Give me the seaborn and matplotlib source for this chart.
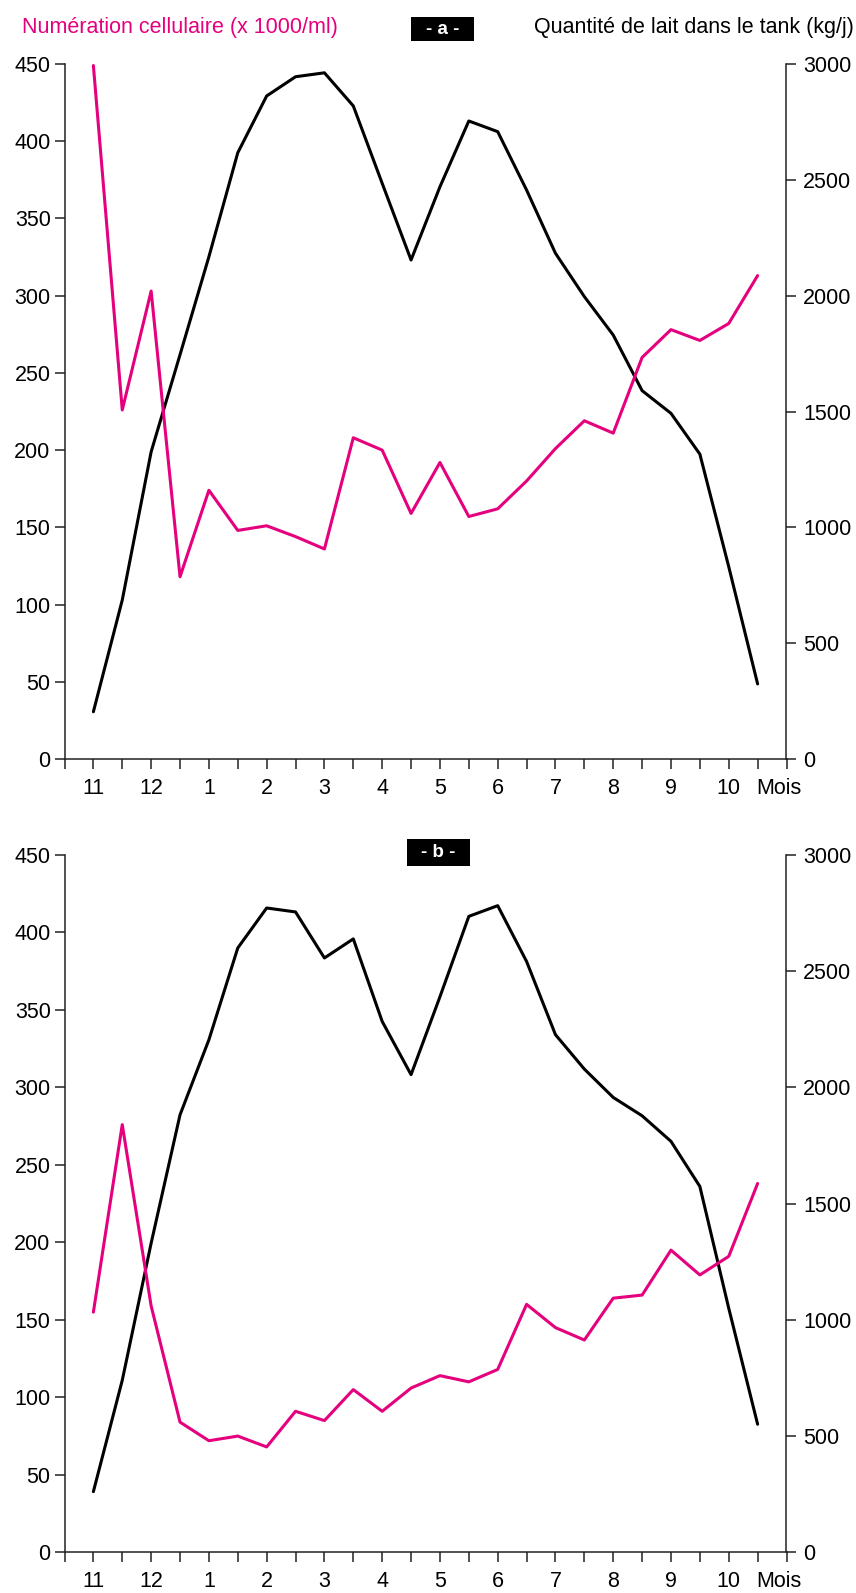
import numpy as np
import pandas as pd
import matplotlib
matplotlib.use("Agg")
import matplotlib.pyplot as plt
import seaborn as sns
from matplotlib.patches import Rectangle

# ---------------- data ----------------
month_labels = ["11", "12", "1", "2", "3", "4", "5", "6", "7", "8", "9", "10"]
# two readings per month (start / mid-month), 24 periods
cells_a = [449, 226, 303, 118, 174, 148, 151, 144, 136, 208, 200, 159,
           192, 157, 162, 180, 201, 219, 211, 260, 278, 271, 282, 313]
milk_a = [204, 686, 1326, 1745, 2168, 2617, 2862, 2945, 2962, 2819, 2485, 2154,
          2470, 2754, 2708, 2456, 2183, 1996, 1830, 1590, 1492, 1316, 830, 324]
cells_b = [155, 276, 159, 84, 72, 75, 68, 91, 85, 105, 91, 106,
           114, 110, 118, 160, 145, 137, 164, 166, 195, 179, 191, 238]
milk_b = [261, 740, 1330, 1882, 2205, 2600, 2772, 2755, 2557, 2639, 2284, 2055,
          2390, 2736, 2782, 2542, 2227, 2079, 1957, 1878, 1768, 1574, 1050, 551]
periods = list(range(1, 25))

title_left = "Numération cellulaire (x 1000/ml)"
title_right = "Quantité de lait dans le tank (kg/j)"
unit_label = "Mois"

PINK = "#E5007D"

sns.set_theme(style="white")
plt.rcParams["font.family"] = ["Liberation Sans", "DejaVu Sans"]

W_PX, H_PX = 856, 1593
fig = plt.figure(figsize=(W_PX / 100, H_PX / 100), dpi=100)


def fx(px):
    return px / W_PX


def fy(py):
    return 1 - py / H_PX


def panel(top_px, bottom_px, cells, milk, tag, box):
    L, R = 64.5, 786.5
    ax = fig.add_axes([fx(L), fy(bottom_px), fx(R - L), (bottom_px - top_px) / H_PX])
    ax2 = ax.twinx()
    df = pd.DataFrame({"periode": periods, "cellules": cells, "lait": milk})
    sns.lineplot(data=df, x="periode", y="lait", ax=ax2, color="black", lw=2.2)
    sns.lineplot(data=df, x="periode", y="cellules", ax=ax, color=PINK, lw=2.2)
    ax.set_zorder(ax2.get_zorder() + 1)
    ax.patch.set_visible(False)

    ax.set_xlim(0, 25)
    ax.set_ylim(0, 450)
    ax2.set_ylim(0, 3000)
    ax.set_yticks(range(0, 451, 50))
    ax2.set_yticks(range(0, 3001, 500))
    ax.xaxis.remove_overlapping_locs = False
    ax.set_xticks(range(0, 26))
    ax.set_xticklabels([])
    ax.set_xticks([1, 3, 5, 7, 9, 11, 13, 15, 17, 19, 21, 23, 24.75], minor=True)
    ax.set_xticklabels(month_labels + [unit_label], minor=True)
    for a in (ax, ax2):
        a.set_xlabel("")
        a.set_ylabel("")
        a.grid(False)
    for s in ["top", "right"]:
        ax.spines[s].set_visible(False)
    for s in ["top", "left", "bottom"]:
        ax2.spines[s].set_visible(False)
    for sp in list(ax.spines.values()) + list(ax2.spines.values()):
        sp.set_color("#222222")
        sp.set_linewidth(1.1)
    ax.tick_params(axis="x", which="major", direction="out", length=7, width=1.1,
                   color="#222222", bottom=True)
    ax.tick_params(axis="x", which="minor", length=0, pad=13.5, labelsize=15.5,
                   labelcolor="black", bottom=True)
    ax.tick_params(axis="y", direction="out", length=7, width=1.1, color="#222222",
                   pad=3, labelsize=15.5, labelcolor="black", left=True)
    ax2.tick_params(axis="y", direction="out", length=7, width=1.1, color="#222222",
                    pad=5, labelsize=15.5, labelcolor="black", right=True)

    x0, y0, x1, y1 = box
    fig.patches.append(Rectangle((fx(x0), fy(y1)), fx(x1 - x0), (y1 - y0) / H_PX,
                                 transform=fig.transFigure, facecolor="black",
                                 edgecolor="none"))
    fig.text(fx((x0 + x1) / 2), fy((y0 + y1) / 2), tag, color="white",
             fontsize=13.5, fontweight="bold", ha="center", va="center")
    return ax


panel(64, 759, cells_a, milk_a, "- a -", (411, 17, 474, 41))
panel(855, 1552.3, cells_b, milk_b, "- b -", (407, 839, 470, 866))

fig.text(fx(22), fy(27), title_left, color=PINK, fontsize=15.5, ha="left", va="center")
fig.text(fx(854), fy(27), title_right, color="black", fontsize=15.5, ha="right", va="center")

fig.savefig("out.png", dpi=100)
